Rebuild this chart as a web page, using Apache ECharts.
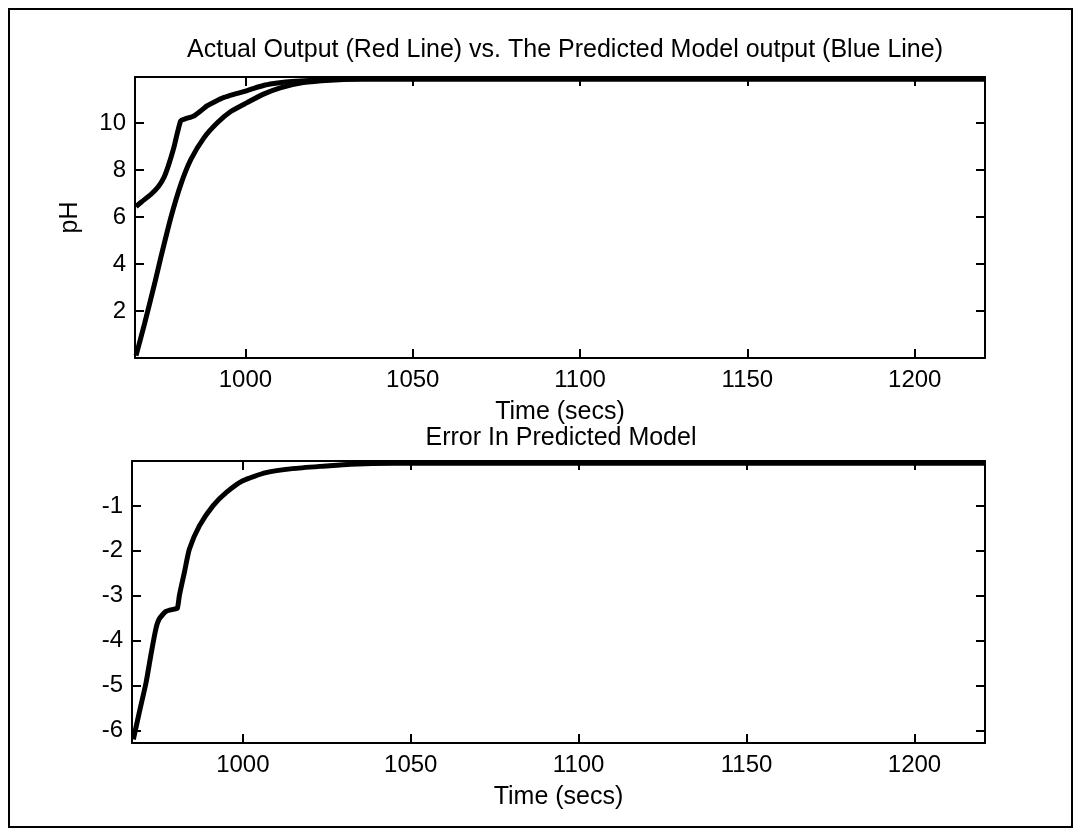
<!DOCTYPE html>
<html>
<head>
<meta charset="utf-8">
<script src="https://cdn.jsdelivr.net/npm/echarts@6/dist/echarts.min.js"></script>
<style>
html,body{margin:0;padding:0;background:#fff;}
#chart{width:1090px;height:829px;}
</style>
</head>
<body>
<div id="chart"></div>
<script>
// ---- data ----
const actualTime = [967.3, 969, 971.8, 974, 975.7, 977, 978.5, 979.7, 980.7, 982, 984.6, 986.5, 988.6, 991, 993.6, 996.5, 999.5, 1002.5, 1005.4, 1008.5, 1011.4, 1015, 1020.3, 1026, 1035, 1050, 1221];
const actualPH   = [6.45, 6.65, 6.97, 7.3, 7.7, 8.2, 8.9, 9.6, 10.1, 10.18, 10.3, 10.5, 10.74, 10.92, 11.09, 11.22, 11.34, 11.48, 11.6, 11.68, 11.74, 11.78, 11.82, 11.85, 11.87, 11.88, 11.88];

const modelTime = [967.3, 969.8, 972.8, 974.7, 977.7, 980.7, 983.7, 987.6, 991.6, 995.5, 1000.5, 1005.4, 1010.4, 1017.3, 1025.3, 1035, 1221];
const modelPH   = [0.1, 1.43, 3.13, 4.27, 5.97, 7.39, 8.45, 9.37, 10.01, 10.48, 10.87, 11.23, 11.5, 11.72, 11.82, 11.87, 11.88];

const errTime  = [967.4, 969.2, 971.2, 972.6, 974.1, 975.1, 977.1, 979.5, 980.5, 981.1, 982.6, 984.1, 987.1, 991.1, 995.1, 1000, 1006.9, 1014.8, 1024.7, 1032, 1045, 1221];
const errValue = [-6.2, -5.59, -4.93, -4.33, -3.74, -3.52, -3.35, -3.3, -3.28, -3.0, -2.48, -1.96, -1.44, -1.0, -0.70, -0.44, -0.26, -0.17, -0.11, -0.07, -0.05, -0.05];

const timeTicks = [1000, 1050, 1100, 1150, 1200];
const phTicks = [2, 4, 6, 8, 10];
const errTicks = [-6, -5, -4, -3, -2, -1];

const xMin = 967, xMax = 1221;
const phMin = 0, phMax = 11.96;
const errMin = -6.28, errMax = 0;

// ---- build ----
const zip = (a, b) => a.map((v, i) => [v, b[i]]);
const FONT = '"Liberation Sans", Arial, Helvetica, sans-serif';
const INK = '#000';
const plain = v => String(v);

function xAx(grid, pos, showLabel, name) {
  return {
    type: 'value', gridIndex: grid, position: pos, min: xMin, max: xMax,
    splitLine: {show: false},
    axisLine: {show: true, onZero: false, lineStyle: {color: INK, width: 2}},
    axisTick: {show: true, inside: true, length: 9, customValues: timeTicks, lineStyle: {color: INK, width: 2}},
    axisLabel: {show: showLabel, customValues: timeTicks, formatter: plain, color: INK, fontFamily: FONT, fontSize: 24, margin: 10},
    name: name || '', nameLocation: 'middle', nameGap: 42,
    nameTextStyle: {color: INK, fontFamily: FONT, fontSize: 25}
  };
}
function yAx(grid, pos, showLabel, min, max, ticks, name) {
  return {
    type: 'value', gridIndex: grid, position: pos, min: min, max: max,
    splitLine: {show: false},
    axisLine: {show: true, onZero: false, lineStyle: {color: INK, width: 2}},
    axisTick: {show: true, inside: true, length: 9, customValues: ticks, lineStyle: {color: INK, width: 2}},
    axisLabel: {show: showLabel, customValues: ticks, formatter: plain, color: INK, fontFamily: FONT, fontSize: 24, margin: 9},
    name: name || '', nameLocation: 'middle', nameGap: 52, nameRotate: 90,
    nameTextStyle: {color: INK, fontFamily: FONT, fontSize: 25}
  };
}

const chart = echarts.init(document.getElementById('chart'));
chart.setOption({
  animation: false,
  backgroundColor: '#fff',
  title: [
    {text: 'Actual Output (Red Line) vs. The Predicted Model output (Blue Line)', left: 560, top: 32, textAlign: 'center',
     textStyle: {color: INK, fontFamily: FONT, fontSize: 25, fontWeight: 'normal', lineHeight: 26}},
    {text: 'Error In Predicted Model', left: 556, top: 420, textAlign: 'center',
     textStyle: {color: INK, fontFamily: FONT, fontSize: 25, fontWeight: 'normal', lineHeight: 26}}
  ],
  grid: [
    {left: 135, top: 77, width: 850, height: 281},
    {left: 132, top: 461, width: 853, height: 282}
  ],
  xAxis: [
    xAx(0, 'bottom', true, 'Time (secs)'),
    xAx(0, 'top', false),
    xAx(1, 'bottom', true, 'Time (secs)'),
    xAx(1, 'top', false)
  ],
  yAxis: [
    yAx(0, 'left', true, phMin, phMax, phTicks, 'pH'),
    yAx(0, 'right', false, phMin, phMax, phTicks),
    yAx(1, 'left', true, errMin, errMax, errTicks),
    yAx(1, 'right', false, errMin, errMax, errTicks)
  ],
  series: [
    {type: 'line', name: 'Actual Output', xAxisIndex: 0, yAxisIndex: 0, data: zip(actualTime, actualPH),
     showSymbol: false, smooth: 0.2, lineStyle: {color: INK, width: 5}, z: 3},
    {type: 'line', name: 'Predicted Model', xAxisIndex: 0, yAxisIndex: 0, data: zip(modelTime, modelPH),
     showSymbol: false, smooth: 0.2, lineStyle: {color: INK, width: 5}, z: 3},
    {type: 'line', name: 'Error', xAxisIndex: 2, yAxisIndex: 2, data: zip(errTime, errValue),
     showSymbol: false, smooth: 0.2, lineStyle: {color: INK, width: 5}, z: 3}
  ],
  graphic: [
    {type: 'rect', shape: {x: 9, y: 9, width: 1063, height: 818}, style: {fill: 'none', stroke: INK, lineWidth: 2}, silent: true}
  ]
});
</script>
</body>
</html>
